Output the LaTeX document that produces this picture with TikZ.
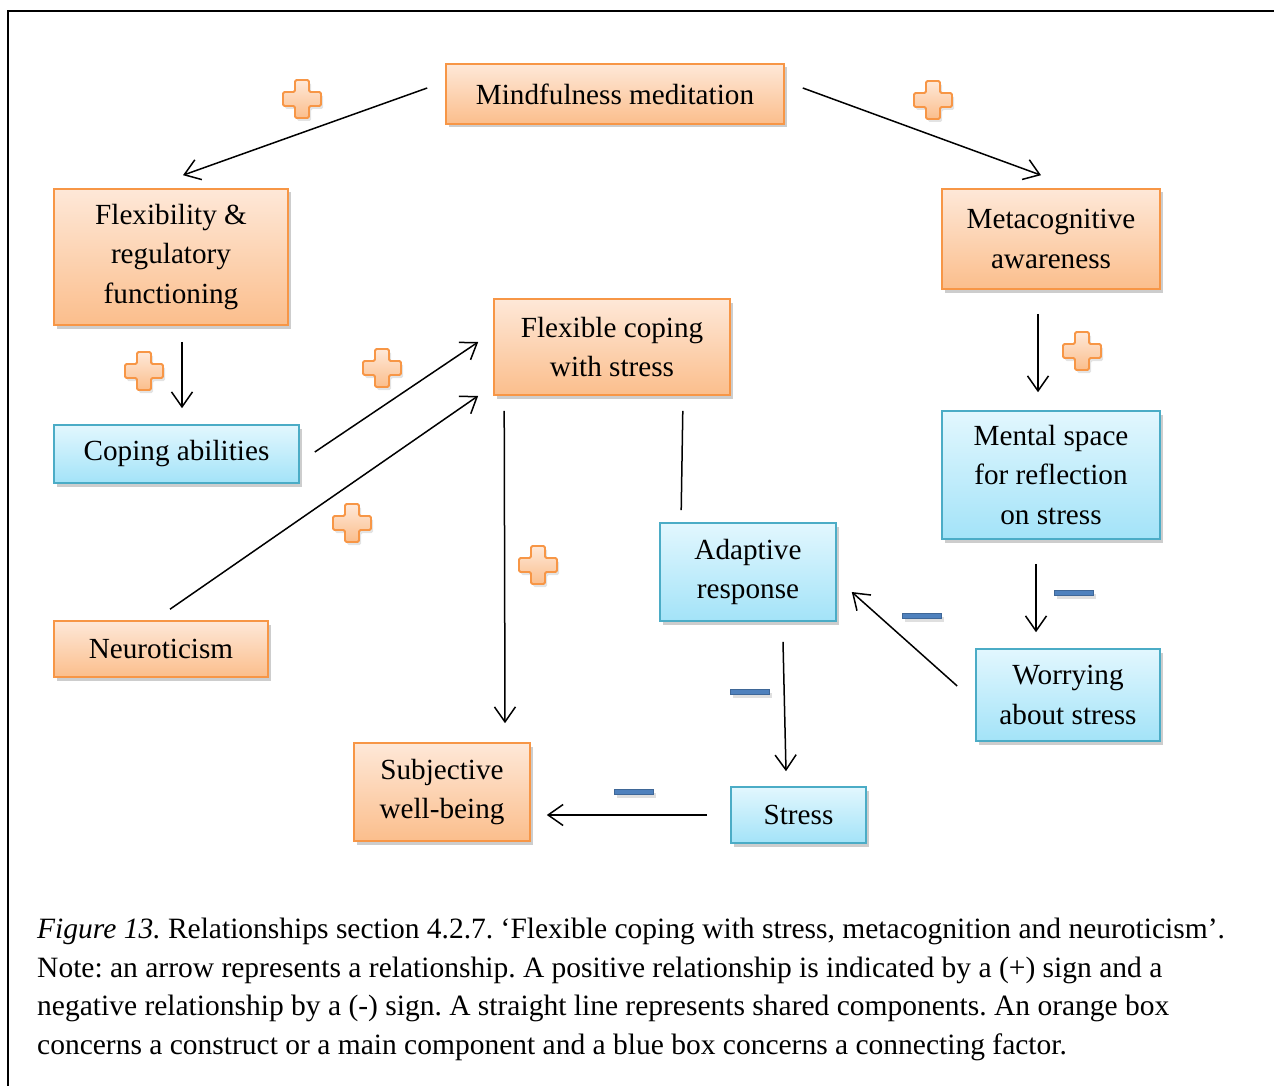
\documentclass[tikz,border=0pt]{standalone}
\usepackage{fontspec}
\setmainfont{Liberation Serif}
\usetikzlibrary{arrows.meta,shadows}

\definecolor{orline}{HTML}{F79646}
\definecolor{ortop}{HTML}{FEE8D8}
\definecolor{orbot}{HTML}{FBBE8C}
\definecolor{blline}{HTML}{4BACC6}
\definecolor{bltop}{HTML}{E2F7FE}
\definecolor{blbot}{HTML}{A3E3F8}
\definecolor{minusblue}{HTML}{4F81BD}

\tikzset{
  txt/.style={font=\fontsize{29.2}{39.5}\selectfont, align=center, inner sep=0pt},
  box/.style={txt, line width=1.6pt,
    drop shadow={shadow xshift=2.5pt, shadow yshift=-3.5pt, opacity=0.28, fill=black!70}},
  orangebox/.style={box, draw=orline, top color=ortop, bottom color=orbot},
  bluebox/.style={box, draw=blline, top color=bltop, bottom color=blbot},
  link/.style={line width=1.5pt, -{Straight Barb[length=15pt,width=21pt]}},
  shared/.style={line width=1.5pt},
  captxt/.style={font=\fontsize{29.5}{38.7}\selectfont\frenchspacing, inner sep=0pt, anchor=base west},
  plussign/.pic={
    \path[draw=orline, line width=1.8pt, rounded corners=1.5pt,
          top color=ortop, bottom color=orbot,
          drop shadow={shadow xshift=2pt, shadow yshift=-3pt, opacity=0.22}]
      (-7,-19) -- (7,-19) -- (7,-7) -- (19,-7) -- (19,7) -- (7,7) -- (7,19)
      -- (-7,19) -- (-7,7) -- (-19,7) -- (-19,-7) -- (-7,-7) -- cycle;
  },
  minussign/.pic={
    \path[fill=minusblue, draw=minusblue!80!black, line width=0.8pt,
          drop shadow={shadow xshift=2pt, shadow yshift=-3pt, opacity=0.25}]
      (-19.5,-2.5) rectangle (19.5,2.5);
  }
}

\begin{document}
\begin{tikzpicture}[x=1pt, y=-1pt]
  \useasboundingbox (0,0) rectangle (1274,1086);
  % page frame
  \draw[line width=2pt] (8,1086) -- (8,11) -- (1274,11);

  % constructs and connecting factors
  \node[orangebox, minimum width=338pt, minimum height=60pt] (mm) at (615,94) {Mindfulness meditation};
  \node[orangebox, minimum width=234pt, minimum height=136pt] (flex) at (171,257) {Flexibility \&\\regulatory\\functioning};
  \node[orangebox, minimum width=218pt, minimum height=100pt] (meta) at (1051,239) {Metacognitive\\awareness};
  \node[orangebox, minimum width=236pt, minimum height=96pt] (fcs) at (612,347) {Flexible coping\\with stress};
  \node[bluebox, minimum width=245pt, minimum height=58pt] (cope) at (176.5,454) {Coping abilities};
  \node[bluebox, minimum width=218pt, minimum height=128pt] (ment) at (1051,475) {Mental space\\for reflection\\on stress};
  \node[bluebox, minimum width=176pt, minimum height=98pt] (adapt) at (748,572) {Adaptive\\response};
  \node[orangebox, minimum width=214pt, minimum height=56pt] (neuro) at (161,649) {Neuroticism};
  \node[bluebox, minimum width=184pt, minimum height=92pt] (worry) at (1068,695) {Worrying\\about stress};
  \node[orangebox, minimum width=176pt, minimum height=98pt] (swb) at (442,792) {Subjective\\well-being};
  \node[bluebox, minimum width=135pt, minimum height=56pt] (stress) at (798.5,815) {Stress};

  % relationships
  \draw[link] ([shift={(-18,-6)}]mm.west) -- ([shift={(12,-13)}]flex.north);
  \draw[link] ([shift={(18,-6)}]mm.east) -- ([shift={(-10,-13)}]meta.north);
  \draw[link] ([shift={(11,16)}]flex.south) -- ([shift={(5.5,-16)}]cope.north);
  \draw[link] ([shift={(-13,24)}]meta.south) -- ([shift={(-13,-18)}]ment.north);
  \draw[link] ([shift={(15,-2)}]cope.east) -- ([shift={(-15,-5)}]fcs.west);
  \draw[link] ([shift={(9,-11)}]neuro.north) -- ([shift={(-15,0)}]fcs.south west);
  \draw[link] ([shift={(11,15)}]fcs.south west) -- ([shift={(63,-19)}]swb.north);
  \draw[shared] ([shift={(-48,15)}]fcs.south east) -- ([shift={(22,-12)}]adapt.north west);
  \draw[link] ([shift={(-15,24)}]ment.south) -- ([shift={(-32,-16)}]worry.north);
  \draw[link] ([shift={(-18,-9)}]worry.west) -- ([shift={(15,20)}]adapt.east);
  \draw[link] ([shift={(35,20)}]adapt.south) -- ([shift={(-12.5,-15)}]stress.north);
  \draw[link] ([shift={(-23,0)}]stress.west) -- ([shift={(16,23)}]swb.east);

  % signs of the relationships
  \pic at (302,99) {plussign};
  \pic at (933,100) {plussign};
  \pic at (144,371) {plussign};
  \pic at (382,368) {plussign};
  \pic at (1082,351) {plussign};
  \pic at (352,523) {plussign};
  \pic at (538,565) {plussign};
  \pic at (922,616) {minussign};
  \pic at (1074,593) {minussign};
  \pic at (750,692) {minussign};
  \pic at (634,792) {minussign};

  % caption
  \node[captxt] (cap1) at (37,938) {\textit{Figure 13.} Relationships section 4.2.7. ‘Flexible coping with stress, metacognition and neuroticism’.};
  \node[captxt] (cap2) at (37,977) {Note: an arrow represents a relationship. A positive relationship is indicated by a (+) sign and a};
  \node[captxt] (cap3) at (37,1015) {negative relationship by a (-) sign. A straight line represents shared components. An orange box};
  \node[captxt] (cap4) at (37,1054) {concerns a construct or a main component and a blue box concerns a connecting factor.};
\end{tikzpicture}
\end{document}
